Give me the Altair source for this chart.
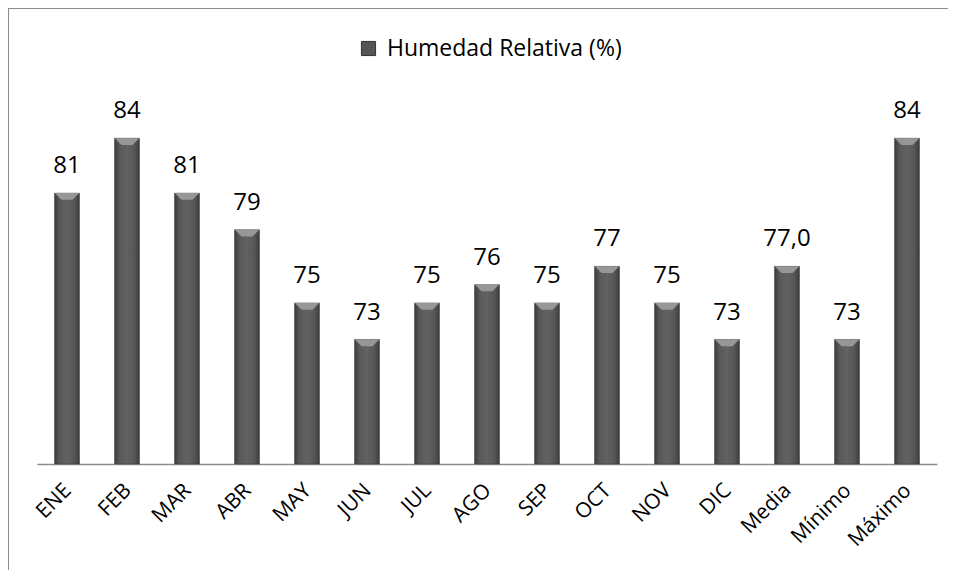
import altair as alt
import pandas as pd

categories = ["ENE", "FEB", "MAR", "ABR", "MAY", "JUN", "JUL", "AGO", "SEP", "OCT",
              "NOV", "DIC", "Media", "Mínimo", "Máximo"]
values = [81, 84, 81, 79, 75, 73, 75, 76, 75, 77, 75, 73, 77.0, 73, 84]
labels = ["81", "84", "81", "79", "75", "73", "75", "76", "75", "77", "75", "73",
          "77,0", "73", "84"]
series_name = "Humedad Relativa (%)"
y_min, y_max = 66.2, 86.2

df = pd.DataFrame({"cat": categories, "val": values, "lab": labels,
                   "serie": [series_name] * len(categories)})

FONT = "Open Sans"

x = alt.X("cat:N", sort=categories, title=None,
          scale=alt.Scale(paddingInner=0.583, paddingOuter=0.2915),
          axis=alt.Axis(labelAngle=-45, labelAlign="right", labelBaseline="middle",
                        labelFontSize=21, labelFont=FONT, labelColor="#000000",
                        labelPadding=23, ticks=False, domainColor="#8c8c8c",
                        domainWidth=1.5, labelOffset=1))
y = alt.Y("val:Q", title=None, scale=alt.Scale(domain=[y_min, y_max], zero=False, nice=False),
          axis=None)

grad = alt.Gradient(gradient="linear",
                    stops=[alt.GradientStop(color="#3c3c3c", offset=0),
                           alt.GradientStop(color="#585858", offset=0.2),
                           alt.GradientStop(color="#626262", offset=0.5),
                           alt.GradientStop(color="#565656", offset=0.8),
                           alt.GradientStop(color="#3c3c3c", offset=1)],
                    x1=0, x2=1, y1=0, y2=0)

bars = alt.Chart(df).mark_bar(fill=grad, stroke="#3a3a3a", strokeWidth=0.5, clip=False).encode(
    x=x, y=y, y2=alt.datum(y_min),
    color=alt.Color("serie:N", scale=alt.Scale(range=["#555555"]),
                    legend=alt.Legend(title=None, orient="none", legendX=320, legendY=-61,
                                      symbolType="square", symbolSize=200,
                                      symbolStrokeColor="#333333", symbolStrokeWidth=1,
                                      labelFontSize=23, labelFont=FONT, labelLimit=0,
                                      labelColor="#000000", symbolOffset=0, labelOffset=7))
)

bevel = alt.Chart(df).mark_point(
    shape="M-1,-1 L1,-1 L0.45,-0.45 L-0.45,-0.45 Z", filled=True, color="#979797",
    opacity=1, size=600, yOffset=12.2, clip=False).encode(x=x, y=y)

text = alt.Chart(df).mark_text(font=FONT, fontSize=24, color="#000000", dy=-27,
                               baseline="middle").encode(x=x, y=y, text="lab:N")

frame_top = alt.Chart(df).mark_rule(color="#8c8c8c", strokeWidth=2).encode(
    x=alt.value(-30), x2=alt.value(940), y=alt.value(-90))
frame_left = alt.Chart(df).mark_rule(color="#8c8c8c", strokeWidth=2).encode(
    x=alt.value(-29), y=alt.value(-90), y2=alt.value(480))

chart = alt.layer(frame_top, frame_left, bars, bevel, text).properties(
    width=900, height=366, background="white",
    autosize=alt.AutoSizeParams(type="none"),
    padding={"left": 29, "top": 90, "right": 11, "bottom": 106},
).configure_view(strokeWidth=0, stroke="transparent")

chart.save("out.html", embed_options={"renderer": "svg", "actions": False})
